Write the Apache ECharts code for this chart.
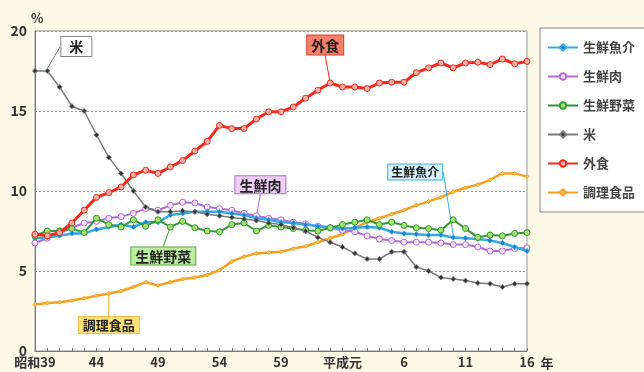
<!DOCTYPE html>
<html>
<head>
<meta charset="utf-8">
<script src="https://cdn.jsdelivr.net/npm/echarts@6/dist/echarts.min.js"></script>
<style>
  html, body { margin: 0; padding: 0; background: #fcf9e6; }
  #main { width: 644px; height: 372px; }
</style>
</head>
<body>
<div id="main"></div>
<script>
// 年次（昭和39年〜平成16年）
var years = ['昭和39', '40', '41', '42', '43', '44', '45', '46', '47', '48',
    '49', '50', '51', '52', '53', '54', '55', '56', '57', '58',
    '59', '60', '61', '62', '63', '平成元', '2', '3', '4', '5',
    '6', '7', '8', '9', '10', '11', '12', '13', '14', '15', '16'];

// 食料支出に占める割合 (%)
var fish = [7.05, 7.1, 7.2, 7.35, 7.35, 7.6, 7.75, 7.9, 7.75, 8.05,
    8.05, 8.5, 8.6, 8.7, 8.7, 8.7, 8.6, 8.5, 8.3, 8.2,
    8.05, 8.0, 7.9, 7.8, 7.75, 7.65, 7.7, 7.75, 7.7, 7.45,
    7.35, 7.3, 7.25, 7.25, 7.1, 7.05, 7.0, 6.9, 6.75, 6.5, 6.25];
var meat = [6.75, 7.05, 7.35, 7.7, 8.0, 8.1, 8.3, 8.4, 8.6, 8.9,
    8.8, 9.1, 9.3, 9.25, 9.0, 8.9, 8.8, 8.6, 8.45, 8.3,
    8.2, 8.05, 7.95, 7.8, 7.7, 7.55, 7.45, 7.2, 7.0, 6.9,
    6.8, 6.8, 6.8, 6.75, 6.65, 6.65, 6.5, 6.25, 6.25, 6.4, 6.45];
var veg = [7.2, 7.5, 7.5, 7.65, 7.4, 8.3, 7.9, 7.75, 8.2, 7.8,
    8.2, 7.75, 8.1, 7.7, 7.5, 7.45, 7.9, 8.0, 7.5, 7.85,
    7.75, 7.65, 7.55, 7.5, 7.7, 7.9, 8.05, 8.2, 7.9, 8.05,
    7.85, 7.7, 7.65, 7.55, 8.2, 7.65, 7.1, 7.25, 7.2, 7.35, 7.4];
var rice = [17.5, 17.5, 16.5, 15.3, 15.0, 13.5, 12.1, 11.1, 10.0, 9.0,
    8.7, 8.7, 8.75, 8.7, 8.55, 8.45, 8.35, 8.25, 8.15, 8.0,
    7.9, 7.7, 7.5, 7.1, 6.8, 6.5, 6.1, 5.75, 5.75, 6.2,
    6.2, 5.25, 5.0, 4.6, 4.5, 4.4, 4.25, 4.2, 4.0, 4.2, 4.2];
var eatOut = [7.3, 7.2, 7.4, 8.0, 8.8, 9.6, 9.9, 10.25, 11.0, 11.3,
    11.1, 11.5, 11.9, 12.5, 13.1, 14.1, 13.9, 13.9, 14.5, 14.95,
    14.95, 15.25, 15.8, 16.3, 16.75, 16.5, 16.5, 16.4, 16.75, 16.8,
    16.8, 17.4, 17.7, 18.0, 17.7, 18.0, 18.05, 17.9, 18.25, 17.95, 18.1];
var prepared = [2.9, 3.0, 3.05, 3.15, 3.3, 3.45, 3.6, 3.75, 4.0, 4.3,
    4.1, 4.3, 4.5, 4.6, 4.75, 5.05, 5.6, 5.9, 6.1, 6.15,
    6.2, 6.4, 6.55, 6.8, 7.05, 7.3, 7.7, 8.05, 8.3, 8.55,
    8.8, 9.1, 9.35, 9.6, 9.95, 10.2, 10.4, 10.7, 11.1, 11.1, 10.9];

var yTicks = [0, 5, 10, 15, 20];

var font = '"Noto Sans CJK JP", sans-serif';

// 吹き出しラベルを1点だけ付ける
function withNote(data, idx, text, bg, border, pos, size, pad) {
    return data.map(function (v, i) {
        if (i !== idx) return v;
        return {
            value: v,
            label: {
                show: true,
                position: pos,
                formatter: text,
                backgroundColor: bg,
                borderColor: border,
                borderWidth: 1,
                padding: pad || [2, 4, 1, 4],
                color: '#222',
                fontSize: size || 14,
                fontWeight: 'bold',
                fontFamily: font
            }
        };
    });
}

function line(name, data, color, symbol, size, fill, width, layout, z) {
    return {
        name: name,
        type: 'line',
        data: data,
        z: z,
        symbol: symbol,
        symbolSize: size,
        showAllSymbol: true,
        lineStyle: { color: color, width: width },
        itemStyle: { color: fill, borderColor: color, borderWidth: 1 },
        labelLayout: layout,
        labelLine: { show: true, lineStyle: { color: color, width: 1 } },
        emphasis: { disabled: true }
    };
}

var chart = echarts.init(document.getElementById('main'));

var option = {
    backgroundColor: '#fcf9e6',
    animation: false,
    textStyle: { fontFamily: font },
    grid: {
        left: 35,
        right: 117,
        top: 31,
        bottom: 21,
        show: true,
        backgroundColor: '#ffffff',
        borderColor: '#9a9a9a',
        borderWidth: 1
    },
    legend: {
        orient: 'vertical',
        left: 540,
        top: 28,
        width: 110,
        itemWidth: 30,
        itemHeight: 8,
        itemGap: 16,
        padding: [13, 20, 13, 7],
        backgroundColor: '#ffffff',
        borderColor: '#888',
        borderWidth: 1,
        textStyle: { fontSize: 13, fontWeight: 'bold', color: '#444', fontFamily: font },
        data: ['生鮮魚介', '生鮮肉', '生鮮野菜', '米', '外食', '調理食品']
    },
    xAxis: {
        type: 'category',
        data: years,
        boundaryGap: false,
        name: '年',
        nameLocation: 'end',
        nameGap: 7,
        nameTextStyle: { color: '#333', fontSize: 13, fontWeight: 'bold', verticalAlign: 'top', padding: [6, 0, 0, 0] },
        axisLine: { lineStyle: { color: '#777' } },
        axisTick: { inside: true, interval: 0, length: 3, lineStyle: { color: '#777' } },
        axisLabel: { interval: 4, color: '#333', fontSize: 13, fontWeight: 'bold', margin: 5 },
        splitLine: { show: false }
    },
    yAxis: {
        type: 'value',
        min: yTicks[0],
        max: yTicks[yTicks.length - 1],
        interval: 5,
        name: '%',
        nameGap: 4,
        nameTextStyle: { color: '#333', fontSize: 13, fontWeight: 'bold', align: 'left', padding: [0, 0, 0, -4] },
        axisLine: { show: true, lineStyle: { color: '#777' } },
        axisTick: { show: false },
        axisLabel: { color: '#333', fontSize: 14, fontWeight: 'bold', margin: 8 },
        splitLine: { lineStyle: { color: '#999', type: [2, 2] } }
    },
    series: [
        line('生鮮魚介', withNote(fish, 34, '生鮮魚介', '#d6f1fb', '#3fb0e2', 'top', 12, [2, 3, 1, 3]),
            '#33aae8', 'diamond', 5, '#1e7fd0', 2.5, { dx: -38, dy: -50 }, 3),
        line('生鮮肉', withNote(meat, 18, '生鮮肉', '#efcdf6', '#b070d0', 'top'),
            '#b36ad6', 'circle', 6, '#f6e4fb', 2, { dx: 4, dy: -14 }, 2),
        line('生鮮野菜', withNote(veg, 11, '生鮮野菜', '#bdeea0', '#50b040', 'bottom'),
            '#2f9a35', 'circle', 6, '#a8e070', 2, { dx: -7, dy: 12 }, 4),
        line('米', withNote(rice, 1, '米', '#ffffff', '#888888', 'top', 14, [3, 8, 2, 8]),
            '#7c7c7c', 'diamond', 5, '#333333', 1.5, { dx: 29, dy: -7 }, 5),
        line('外食', withNote(eatOut, 24, '外食', '#f4806c', '#d8402e', 'top', 14, [3, 4, 2, 4]),
            '#f2291b', 'circle', 6, '#f8b0aa', 3, { dx: -5, dy: -20 }, 6),
        line('調理食品', withNote(prepared, 6, '調理食品', '#ffe27a', '#f2c040', 'bottom', 13),
            '#f5a020', 'diamond', 4, '#f8c850', 2.5, { dx: 0, dy: 16 }, 1)
    ]
};

chart.setOption(option);
</script>
</body>
</html>
